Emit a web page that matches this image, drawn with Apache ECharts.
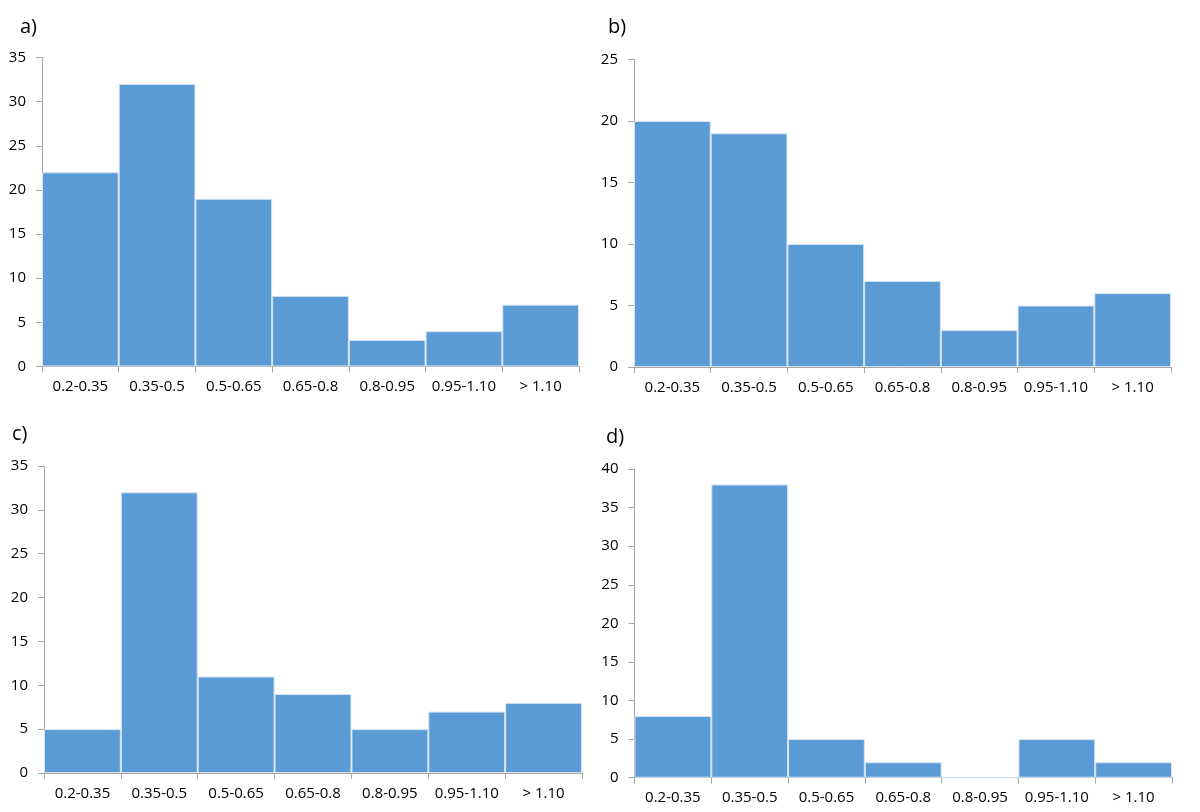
<!DOCTYPE html>
<html><head><meta charset="utf-8">
<script src="https://cdn.jsdelivr.net/npm/echarts@6/dist/echarts.min.js"></script>
<style>html,body{margin:0;padding:0;background:#fff}#c{width:1200px;height:812px}</style>
</head><body><div id="c"></div>
<script>
const categories = ['0.2-0.35','0.35-0.5','0.5-0.65','0.65-0.8','0.8-0.95','0.95-1.10','> 1.10'];
const valuesA = [22, 32, 19, 8, 3, 4, 7];
const valuesB = [20, 19, 10, 7, 3, 5, 6];
const valuesC = [5, 32, 11, 9, 5, 7, 8];
const valuesD = [8, 38, 5, 2, 0, 5, 2];
const panelLabels = ['a)', 'b)', 'c)', 'd)'];
const yMax = [35, 25, 35, 40];

const grids = [
  {left: 42, top: 57.5, width: 537, height: 309},
  {left: 634, top: 59.5, width: 537, height: 307.5},
  {left: 44, top: 466, width: 538, height: 307},
  {left: 634.5, top: 469, width: 537.5, height: 308.7}
];
const labelPos = [[20, 30], [608, 30], [12, 437], [606, 440]];
const series = [valuesA, valuesB, valuesC, valuesD];
const font = '"Open Sans", "Noto Sans", sans-serif';

const option = {
  animation: false,
  backgroundColor: '#fff',
  graphic: panelLabels.map((t, i) => ({
    type: 'text', left: labelPos[i][0], top: labelPos[i][1] - 13,
    style: {text: t, font: '20px ' + font, fill: '#000'}
  })),
  grid: grids.map(g => Object.assign({containLabel: false}, g)),
  xAxis: grids.map((g, i) => ({
    type: 'category', gridIndex: i, data: categories,
    axisLine: {lineStyle: {color: '#a6a6a6', width: 1}},
    axisTick: {show: true, alignWithLabel: false, length: 6, lineStyle: {color: '#a6a6a6'}},
    axisLabel: {color: '#000', fontSize: 15, fontFamily: font, margin: 13, interval: 0}
  })),
  yAxis: grids.map((g, i) => ({
    type: 'value', gridIndex: i, min: 0, max: yMax[i], interval: 5,
    axisLine: {show: true, lineStyle: {color: '#a6a6a6', width: 1}},
    axisTick: {show: true, length: 6, lineStyle: {color: '#a6a6a6'}},
    splitLine: {show: false},
    axisLabel: {color: '#000', fontSize: 15, fontFamily: font, margin: 16}
  })),
  series: series.map((d, i) => ({
    type: 'bar', xAxisIndex: i, yAxisIndex: i, data: d,
    barCategoryGap: 0, barGap: 0,
    itemStyle: {color: '#5b9bd5', borderColor: '#d6e4f2', borderWidth: 1}
  }))
};
const chart = echarts.init(document.getElementById('c'), null, {renderer: 'canvas'});
chart.setOption(option);
</script></body></html>
